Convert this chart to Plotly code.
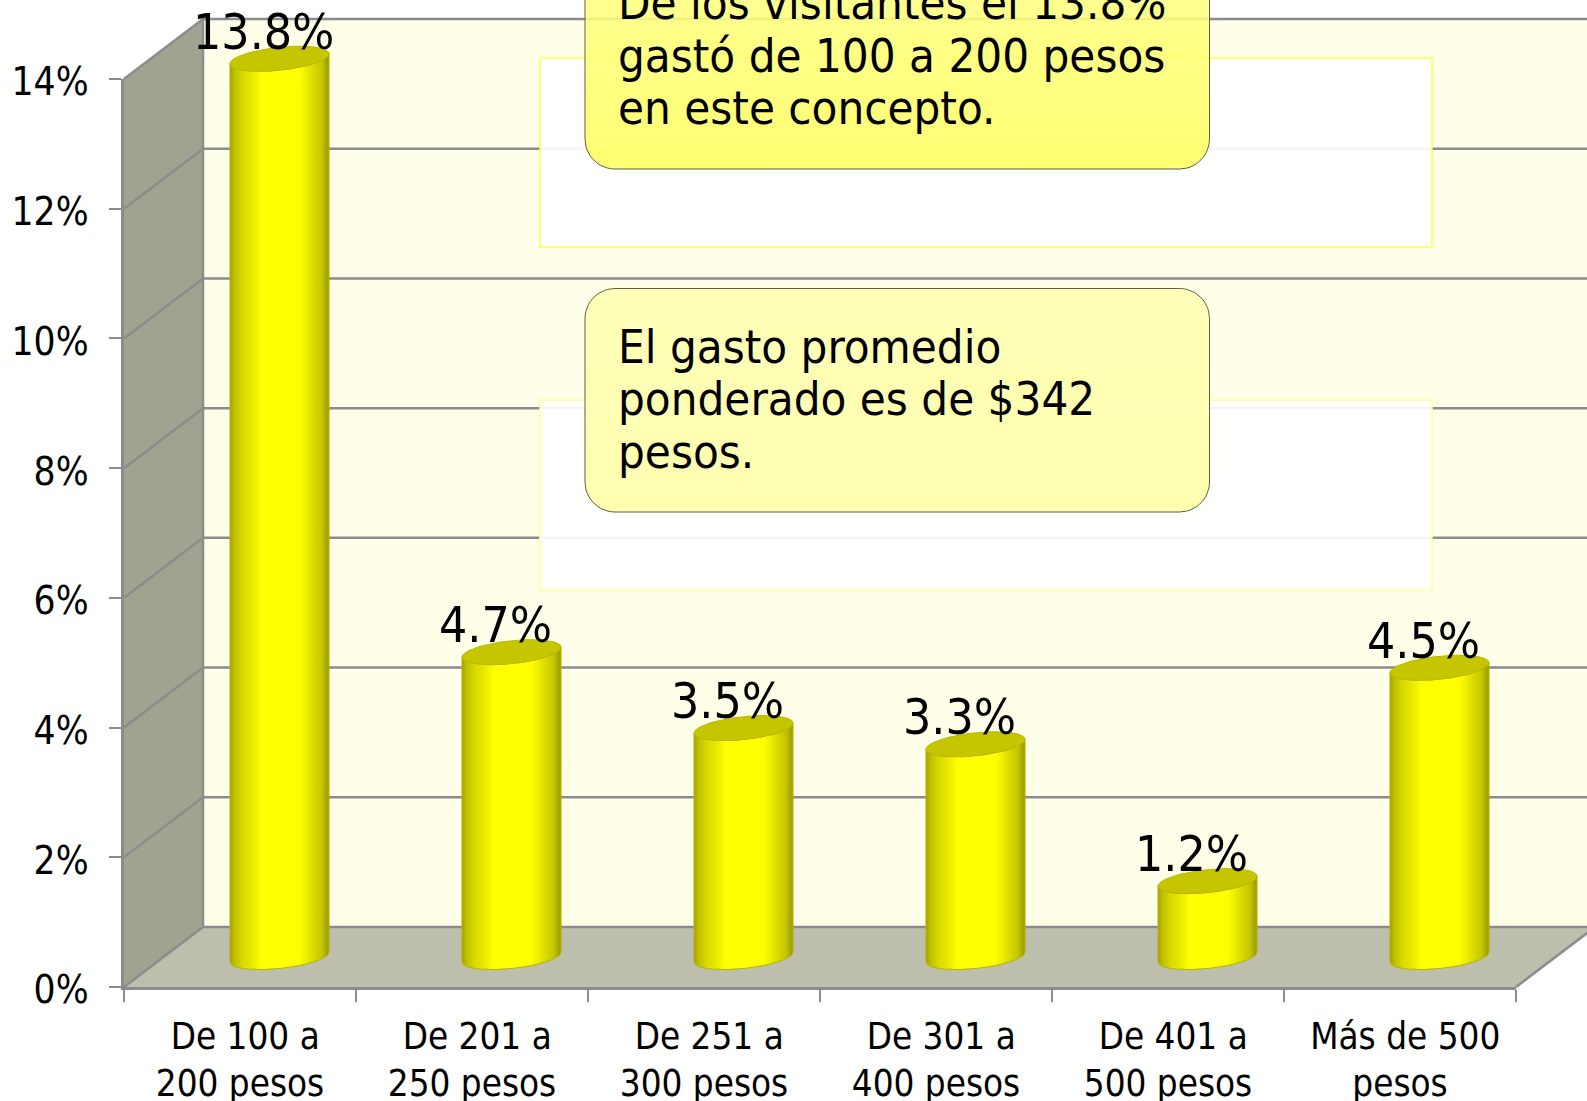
import plotly.graph_objects as go
import numpy as np

categories = ["\u00a0De 100 a<br>200 pesos", "\u00a0De 201 a<br>250 pesos", "\u00a0De 251 a<br>300 pesos",
              "\u00a0De 301 a<br>400 pesos", "\u00a0De 401 a<br>500 pesos", "\u00a0Más de 500<br>pesos"]
values = [13.85, 4.7, 3.53, 3.28, 1.17, 4.46]
labels = ["13.8%", "4.7%", "3.5%", "3.3%", "1.2%", "4.5%"]
yticks = [0, 2, 4, 6, 8, 10, 12, 14]
box_top_lines = ["De los visitantes el 13.8%", "gastó de 100 a 200 pesos", "en este concepto."]
box_mid_lines = ["El gasto promedio", "ponderado es de $342", "pesos."]

W, H = 1587, 1101
L, R, T, B = 124, 1516, 79, 987
FONT = "DejaVu Sans Condensed, Tahoma, DejaVu Sans"
GRID = "#8c8c8c"
n = len(categories)
ppx = (R - L) / n
ppy = (B - T) / 14
DX = 79 / ppx      # depth in x (category units)
DY = 60 / ppy      # depth in y (percent units)
ymax = yticks[-1]

def X(px): return (px - L) / ppx
def Y(py): return (B - py) / ppy

fig = go.Figure()

def poly(xs, ys, fill=None, line=None, width=0, grad=None):
    kw = dict(x=list(xs), y=list(ys), mode="lines", hoverinfo="skip", showlegend=False, xaxis="x", yaxis="y")
    if fill or grad:
        kw["fill"] = "toself"
    if fill:
        kw["fillcolor"] = fill
    if grad:
        kw["fillgradient"] = grad
    kw["line"] = dict(color=line or "rgba(0,0,0,0)", width=width)
    fig.add_trace(go.Scatter(**kw))

xend = n + DX
# walls and floor
poly([DX, xend, xend, DX], [DY, DY, ymax + DY, ymax + DY], fill="#FFFFE9")
poly([0, DX, DX, 0], [0, DY, ymax + DY, ymax], fill="#A2A290")
poly([0, n, xend, DX], [0, 0, DY, DY], fill="#BEBEAC")
# gridlines
for v in yticks:
    poly([0, DX, xend], [v, v + DY, v + DY], line=GRID, width=2.5)
poly([DX, DX], [DY, ymax + DY], line=GRID, width=2.5)
poly([n, xend], [0, DY], line=GRID, width=2.5)

# overlay panels (pixel placement converted through the axes)
def rect(x0, x1, y0, y1, fill, line):
    poly([X(x0), X(x1), X(x1), X(x0), X(x0)], [Y(y0), Y(y0), Y(y1), Y(y1), Y(y0)], fill=fill, line=line, width=1.5)
rect(540, 1432, 58, 247, "rgba(255,255,255,0.9)", "#FFFF4D")
rect(540, 1432, 400, 590, "rgba(255,255,255,0.9)", "#FFFF99")

def rounded(x0, x1, y0, y1, r, c_top, c_bot):
    t = np.linspace(0, np.pi / 2, 14)
    px, py = [], []
    for cx, cy, a in [(x1 - r, y0 + r, 0), (x0 + r, y0 + r, np.pi / 2), (x0 + r, y1 - r, np.pi), (x1 - r, y1 - r, 1.5 * np.pi)]:
        px += list(cx + r * np.cos(t + a))
        py += list(cy - r * np.sin(t + a))
    px.append(px[0]); py.append(py[0])
    grad = dict(type="vertical", colorscale=[[0, c_bot], [1, c_top]])
    poly([X(p) for p in px], [Y(p) for p in py], grad=grad, line="#5f5f45", width=1)
rounded(585, 1209.5, -54, 169, 30, "rgba(255,255,140,0.88)", "rgba(255,255,95,0.88)")
rounded(585, 1209.5, 288.5, 512, 30, "rgba(255,255,178,0.88)", "rgba(255,255,165,0.88)")

# cylinders
a = 49.5 / ppx
b = 11.5 / ppy
s = 5 / ppy
bar_scale = [[0, "#A0A000"], [0.04, "#BCBC00"], [0.12, "#D8D800"], [0.22, "#E8E800"], [0.32, "#FFFF00"],
             [0.7, "#FFFF00"], [0.85, "#D8D800"], [0.93, "#C4C400"], [0.97, "#A8A800"], [1, "#9A9A00"]]
for i, v in enumerate(values):
    xc = i + 0.5 + DX / 2
    t_low = np.linspace(np.pi, 2 * np.pi, 40)
    base_x = xc + a * np.cos(t_low)
    base_y = DY / 2 + s * np.cos(t_low) + b * np.sin(t_low)
    top_x = base_x[::-1]
    top_y = (v + DY / 2 + s * np.cos(t_low) + b * np.sin(t_low))[::-1]
    poly(list(base_x) + list(top_x) + [base_x[0]], list(base_y) + list(top_y) + [base_y[0]],
         grad=dict(type="horizontal", colorscale=bar_scale), line="#B4B400", width=1)
    t = np.linspace(0, 2 * np.pi, 80)
    poly(xc + a * np.cos(t), v + DY / 2 + s * np.cos(t) + b * np.sin(t), fill="#C6C600", line="#B8B800", width=1)

# empty trace so the tick-bearing axes exist on top
fig.add_trace(go.Scatter(x=[0], y=[0], mode="markers", marker=dict(opacity=0), xaxis="x2", yaxis="y2",
                         hoverinfo="skip", showlegend=False))

fig.update_layout(
    width=W, height=H, autosize=False, margin=dict(l=0, r=0, t=0, b=0, pad=0, autoexpand=False),
    paper_bgcolor="white", plot_bgcolor="rgba(0,0,0,0)", showlegend=False,
    font=dict(family=FONT, color="black"),
    xaxis=dict(domain=[0, 1], range=[X(0), X(W)], visible=False, fixedrange=True),
    yaxis=dict(domain=[0, 1], range=[Y(H), Y(0)], visible=False, fixedrange=True),
    xaxis2=dict(domain=[L / W, R / W], anchor="y2", range=[0, n], tickmode="array",
                tickvals=[i + 0.5 for i in range(n)], ticktext=categories,
                ticks="", showgrid=False, zeroline=False, showline=True, linecolor=GRID, linewidth=2.5,
                tickfont=dict(size=36.5, family=FONT, color="black"), tickangle=0, ticklabelstandoff=15,
                minor=dict(tickmode="array", tickvals=list(range(n + 1)), ticks="outside", ticklen=12,
                           tickcolor=GRID, tickwidth=2, showgrid=False)),
    yaxis2=dict(domain=[(H - B) / H, (H - T) / H], anchor="x2", range=[0, ymax], tickmode="array", tickvals=yticks,
                ticktext=[f"{v}%" for v in yticks],
                ticks="outside", ticklen=12, tickcolor=GRID, tickwidth=2, showgrid=False, zeroline=False,
                showline=True, linecolor=GRID, linewidth=2.5, ticklabelstandoff=13, ticklabelshift=3,
                tickfont=dict(size=38.5, family=FONT, color="black")),
)

ann = []
for i, (v, lab) in enumerate(zip(values, labels)):
    ann.append(dict(x=i + 0.6, y=v, xref="x", yref="y", text=lab, showarrow=False, yshift=57,
                    xanchor="center", yanchor="middle", font=dict(size=49.5, family=FONT, color="black")))
for lines, ys in [(box_top_lines, [2, 55, 107]), (box_mid_lines, [346, 398, 451])]:
    for line, py in zip(lines, ys):
        ann.append(dict(x=X(616), y=Y(py), xref="x", yref="y", text=line,
                        showarrow=False, xanchor="left", yanchor="middle", align="left",
                        font=dict(size=47, family=FONT, color="black")))
fig.update_layout(annotations=ann)
fig.write_html("out.html", config={"displayModeBar": False},
               post_script="document.body.style.margin='0';document.body.style.overflow='hidden';")
